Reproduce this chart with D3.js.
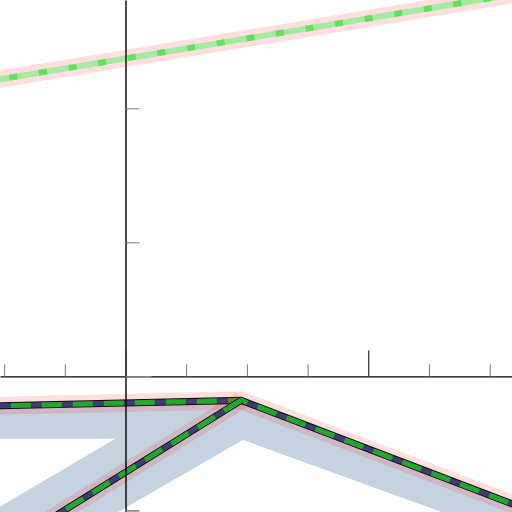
<!DOCTYPE html>
<html>
<head>
<meta charset="utf-8">
<script src="https://cdn.jsdelivr.net/npm/d3@7"></script>
<style>
  html, body { margin: 0; padding: 0; background: #fff; }
  svg { display: block; }
</style>
</head>
<body>
<div id="chart"></div>
<script>
// view window in data units
const xDomain = [-0.517, 1.592];
const yDomain = [-0.253, 0.702];

// tick values
const xTicks = [-0.5, -0.25, 0.25, 0.5, 0.75, 1.25, 1.5];
const xMajorTicks = [0, 1];
const yTicks = [0.5, 0.25, -0.25];
const yMajorTicks = [0];

// series
const upperLine = [[-0.6, 0.548], [1.7, 0.72]];
const lowerLine = [[-0.6, -0.0558], [0.476, -0.0448], [1.708, -0.2578]];
const diagLine = [[0.476, -0.0448], [-0.352, -0.278]];
const shadowArea = [
  [-0.6, -0.0558], [0.476, -0.0448], [1.708, -0.2578], [1.708, -0.32],
  [0.484, -0.1185], [-0.159, -0.2864], [-0.678, -0.2864], [-0.043, -0.1166],
  [-0.6, -0.1166]
];

const width = 512, height = 512;

const svg = d3.select("#chart").append("svg")
  .attr("width", width)
  .attr("height", height);

const x = d3.scaleLinear().domain(xDomain).range([0, width]);
const y = d3.scaleLinear().domain(yDomain).range([height, 0]);

const line = d3.line().x(d => x(d[0])).y(d => y(d[1]));

// blue shadow under the lower lines
svg.append("path")
  .attr("d", line(shadowArea) + "Z")
  .attr("fill", "#c5d3e0");

// upper light line
const up = svg.append("g").attr("fill", "none");
up.append("path").attr("d", line(upperLine))
  .attr("stroke", "#ffdede").attr("stroke-width", 17);
up.append("path").attr("d", line(upperLine))
  .attr("stroke", "#a6e9a0").attr("stroke-width", 6);
up.append("path").attr("d", line(upperLine))
  .attr("stroke", "#66e05a").attr("stroke-width", 6)
  .attr("stroke-dasharray", "8,22");

// lower dark lines
[lowerLine, diagLine].forEach(pts => {
  const g = svg.append("g").attr("fill", "none").attr("stroke-linejoin", "miter");
  g.append("path").attr("d", line(pts))
    .attr("stroke", "rgba(255,0,0,0.13)").attr("stroke-width", 18);
  g.append("path").attr("d", line(pts))
    .attr("stroke", "#1a0a10").attr("stroke-width", 7);
  g.append("path").attr("d", line(pts))
    .attr("stroke", "#3a3f72").attr("stroke-width", 5);
  g.append("path").attr("d", line(pts))
    .attr("stroke", "#22a82a").attr("stroke-width", 5)
    .attr("stroke-dasharray", "20,11");
});

// axes
const xAxis = svg.append("g")
  .attr("transform", `translate(0,${y(0)})`)
  .call(d3.axisTop(x).tickValues(xTicks).tickSize(12).tickSizeOuter(0).tickFormat(""));
xAxis.selectAll(".tick line").attr("stroke", "#777");
xAxis.select(".domain").attr("stroke", "#000").attr("stroke-width", 1.4);

const xMajor = svg.append("g")
  .attr("transform", `translate(0,${y(0)})`)
  .call(d3.axisTop(x).tickValues(xMajorTicks).tickSize(26).tickSizeOuter(0).tickFormat(""));
xMajor.select(".domain").remove();
xMajor.selectAll(".tick line").attr("stroke", d => d === 0 ? "#999" : "#000");

const yAxis = svg.append("g")
  .attr("transform", `translate(${x(0)},0)`)
  .call(d3.axisRight(y).tickValues(yTicks.concat([-0.25])).tickSize(14).tickSizeOuter(0).tickFormat(""));
yAxis.selectAll(".tick line").attr("stroke", "#777");
yAxis.select(".domain").attr("stroke", "#000").attr("stroke-width", 1.4);

const yMajor = svg.append("g")
  .attr("transform", `translate(${x(0)},0)`)
  .call(d3.axisRight(y).tickValues(yMajorTicks).tickSize(26).tickSizeOuter(0).tickFormat(""));
yMajor.select(".domain").remove();
yMajor.selectAll(".tick line").attr("stroke", "#aaa");
</script>
</body>
</html>
